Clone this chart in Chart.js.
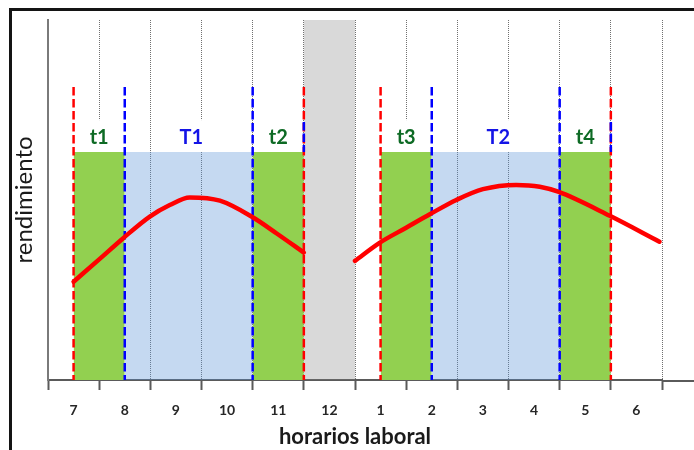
<!DOCTYPE html>
<html>
<head>
<meta charset="utf-8">
<script src="https://cdn.jsdelivr.net/npm/chart.js@4.4.1/dist/chart.umd.min.js"></script>
<style>
  body { margin: 0; background: #fff; }
  #wrap { position: relative; width: 694px; height: 450px; overflow: hidden; }
  #frame { position: absolute; left: 9px; top: 8px; width: 800px; height: 800px; border: 3px solid #141414; pointer-events: none; }
</style>
</head>
<body>
<div id="wrap">
  <canvas id="workChart" width="694" height="450"></canvas>
  <div id="frame"></div>
</div>
<script>
// hour slots on the x axis (one slot per unit)
const hourLabels = ["7", "8", "9", "10", "11", "12", "1", "2", "3", "4", "5", "6"];

// performance curve, morning and afternoon (x in slot units, y in 0..100)
const morningX = [0.5, 1.0, 1.47, 1.99, 2.38, 2.77, 3.36, 4.0, 4.47, 5.0];
const morningY = [27.3, 33.5, 39.4, 45.4, 48.6, 50.7, 49.8, 45.2, 40.7, 35.4];
const afternoonX = [6.0, 6.48, 7.0, 7.47, 7.98, 8.5, 9.15, 9.61, 9.97, 10.98, 11.95];
const afternoonY = [33.1, 38.1, 42.3, 46.1, 50.0, 53.0, 54.2, 53.7, 52.3, 45.6, 38.4];

// phases: t = transition (green), T = productive block (blue)
const phaseNames = ["t1", "T1", "t2", "t3", "T2", "t4"];
const phaseStart = [0.5, 1.5, 4, 6.5, 7.5, 10];
const phaseEnd = [1.5, 4, 5, 7.5, 10, 11];
const phaseLabelX = [1.0, 2.8, 4.5, 7.0, 8.8, 10.5];
const phaseLevel = 63.3;
const labelTop = 72.2;
const markerTop = 81.4;

// lunch break
const breakStart = 5;
const breakEnd = 6;

// dashed markers: red = start/end of shift, blue = start/end of block
const redMarkers = [0.5, 5, 6.5, 11];
const blueMarkers = [1.5, 4, 7.5, 10];

function pairs(xs, ys) {
    return xs.map(function (x, i) {
        return { x: x, y: ys[i] };
    });
}

var datasets = [];

// lunch break band
datasets.push({
    data: [{ x: breakStart, y: 100 }, { x: breakEnd, y: 100 }],
    borderColor: "transparent",
    borderWidth: 0,
    backgroundColor: "rgba(128,128,128,0.3)",
    fill: "origin",
    pointRadius: 0,
    order: 10,
});

phaseNames.forEach(function (name, i) {
    var isBlock = name[0] === "T";
    datasets.push({
        data: [{ x: phaseStart[i], y: phaseLevel }, { x: phaseEnd[i], y: phaseLevel }],
        borderColor: "transparent",
        borderWidth: 0,
        backgroundColor: isBlock ? "rgba(89,146,215,0.35)" : "#92d050",
        fill: "origin",
        pointRadius: 0,
        order: isBlock ? 9 : 8,
    });
});

redMarkers.forEach(function (x) {
    datasets.push({
        data: [{ x: x, y: markerTop }, { x: x, y: 0 }],
        borderColor: "#ff0000",
        borderWidth: 2.5,
        borderDash: [8.5, 3.5],
        pointRadius: 0,
        fill: false,
        order: 5,
    });
});

blueMarkers.forEach(function (x) {
    datasets.push({
        data: [{ x: x, y: markerTop }, { x: x, y: 0 }],
        borderColor: "#0000ff",
        borderWidth: 2.5,
        borderDash: [8.5, 3.5],
        pointRadius: 0,
        fill: false,
        order: 5,
    });
});

// blue bit overlapping the red end markers near the labels
[breakStart, phaseEnd[5]].forEach(function (x) {
    datasets.push({
        data: [{ x: x, y: labelTop - 0.5 }, { x: x, y: phaseLevel }],
        borderColor: "#0000ff",
        borderWidth: 2.5,
        borderDash: [8.5, 3],
        pointRadius: 0,
        fill: false,
        order: 4,
    });
});

[pairs(morningX, morningY), pairs(afternoonX, afternoonY)].forEach(function (d) {
    datasets.push({
        data: d,
        borderColor: "#ff0000",
        borderWidth: 4.5,
        cubicInterpolationMode: "monotone",
        pointRadius: 0,
        fill: false,
        borderCapStyle: "round",
        order: 1,
    });
});

const phaseLabels = {
    id: "phaseLabels",
    beforeDatasetsDraw(chart) {
        const { ctx, scales: { x, y } } = chart;
        const top = y.getPixelForValue(labelTop);
        const bottom = y.getPixelForValue(phaseLevel);
        ctx.save();
        ctx.font = "bold 20px Lato";
        ctx.textAlign = "center";
        ctx.textBaseline = "middle";
        phaseNames.forEach(function (name, i) {
            const cx = x.getPixelForValue(phaseLabelX[i]);
            ctx.fillStyle = "#fff";
            ctx.fillRect(cx - 18, top, 36, bottom - top);
            ctx.fillStyle = name[0] === "T" ? "#1414e6" : "#0d6a24";
            ctx.fillText(name, cx, (top + bottom) / 2 + 1);
        });
        ctx.restore();
    },
};

// x axis line keeps going past the last slot
const axisTail = {
    id: "axisTail",
    afterDraw(chart) {
        const { ctx, chartArea } = chart;
        ctx.save();
        ctx.strokeStyle = "#5a5a5a";
        ctx.lineWidth = 2;
        ctx.beginPath();
        ctx.moveTo(chartArea.right, chartArea.bottom + 1);
        ctx.lineTo(chart.width, chartArea.bottom + 1);
        ctx.stroke();
        ctx.restore();
    },
};

var ctx = document.getElementById("workChart");
var workChart = new Chart(ctx, {
    type: "line",
    data: { datasets: datasets },
    options: {
        responsive: false,
        animation: false,
        events: [],
        layout: { padding: { top: 20, left: 10, right: 32, bottom: 0 } },
        plugins: {
            legend: { display: false },
            tooltip: { enabled: false },
        },
        scales: {
            x: {
                type: "linear",
                min: 0,
                max: hourLabels.length,
                afterBuildTicks: function (scale) {
                    var ticks = [];
                    for (var i = 0; i <= hourLabels.length * 2; i++) {
                        ticks.push({ value: i / 2 });
                    }
                    scale.ticks = ticks;
                },
                afterFit: function (scale) {
                    scale.height = 70;
                },
                ticks: {
                    autoSkip: false,
                    maxRotation: 0,
                    padding: 12,
                    color: "#262626",
                    font: { family: "Lato", size: 14, weight: "bold" },
                    callback: function (value) {
                        return Number.isInteger(value) ? "" : hourLabels[Math.floor(value)];
                    },
                },
                grid: {
                    color: function (c) {
                        var v = c.tick ? c.tick.value : 0;
                        return Number.isInteger(v) && v > 0 ? "#707070" : "rgba(0,0,0,0)";
                    },
                    lineWidth: 1,
                    tickLength: 10,
                    tickWidth: 2,
                    tickBorderDash: [],
                    tickColor: function (c) {
                        var v = c.tick ? c.tick.value : 0;
                        return Number.isInteger(v) ? "#5a5a5a" : "rgba(0,0,0,0)";
                    },
                },
                border: { color: "#5a5a5a", width: 2, dash: [1, 1] },
                title: {
                    display: true,
                    text: "horarios laboral",
                    color: "#1a1a1a",
                    font: { family: "Lato", size: 22, weight: "bold" },
                    padding: { top: 4, bottom: 0 },
                },
            },
            y: {
                min: 0,
                max: 100,
                afterFit: function (scale) {
                    scale.width = 38;
                },
                ticks: { display: false },
                grid: { display: false },
                border: { color: "#7a7a7a", width: 2 },
                title: {
                    display: true,
                    text: "rendimiento",
                    color: "#1a1a1a",
                    font: { family: "Lato", size: 24 },
                    padding: { top: 0, bottom: 0 },
                },
            },
        },
    },
    plugins: [phaseLabels, axisTail],
});
</script>
</body>
</html>
